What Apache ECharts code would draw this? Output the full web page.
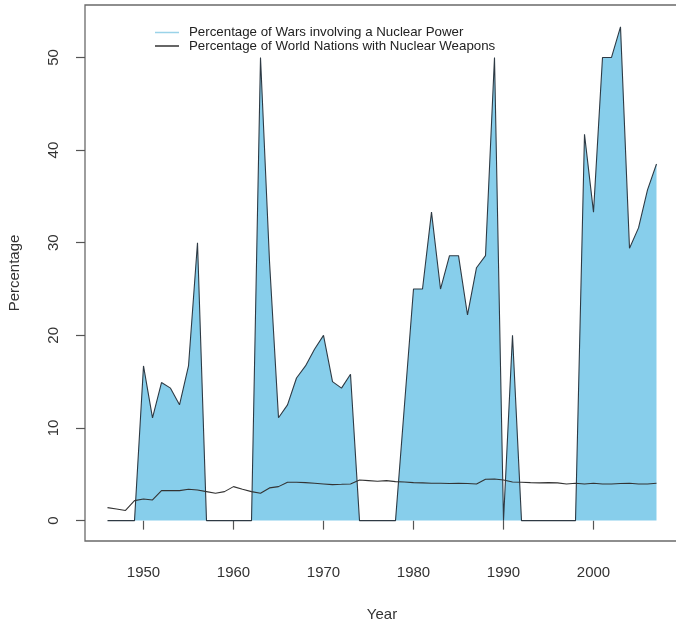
<!DOCTYPE html>
<html>
<head>
<meta charset="utf-8">
<script src="https://cdn.jsdelivr.net/npm/echarts@6/dist/echarts.min.js"></script>
<style>
html,body{margin:0;padding:0;background:#fff;}
#chart{width:676px;height:625px;}
</style>
</head>
<body>
<div id="chart"></div>
<script>
const years = [1946,1947,1948,1949,1950,1951,1952,1953,1954,1955,1956,1957,1958,1959,1960,1961,1962,1963,1964,1965,1966,1967,1968,1969,1970,1971,1972,1973,1974,1975,1976,1977,1978,1979,1980,1981,1982,1983,1984,1985,1986,1987,1988,1989,1990,1991,1992,1993,1994,1995,1996,1997,1998,1999,2000,2001,2002,2003,2004,2005,2006,2007];
const warsPct = [0,0,0,0,16.7,11.1,14.9,14.3,12.5,16.7,30,0,0,0,0,0,0,50,28,11.1,12.5,15.4,16.7,18.5,20,15,14.3,15.8,0,0,0,0,0,12.5,25,25,33.3,25,28.6,28.6,22.2,27.3,28.6,50,0,20,0,0,0,0,0,0,0,41.7,33.3,50,50,53.3,29.4,31.6,35.7,38.5];
const nationsPct = [1.40,1.26,1.10,2.16,2.34,2.23,3.24,3.24,3.24,3.38,3.30,3.13,2.95,3.13,3.67,3.38,3.13,2.95,3.53,3.67,4.15,4.14,4.10,4.03,3.96,3.89,3.92,3.96,4.39,4.32,4.25,4.32,4.21,4.17,4.10,4.07,4.03,4.03,4.00,4.03,4.00,3.96,4.46,4.50,4.39,4.17,4.14,4.10,4.07,4.10,4.07,3.96,4.03,3.96,4.03,3.96,3.96,4.00,4.03,3.96,3.96,4.03];
const xTicks = [1950,1960,1970,1980,1990,2000];
const yTicks = [0,10,20,30,40,50];
const warsName = 'Percentage of Wars involving a Nuclear Power';
const nationsName = 'Percentage of World Nations with Nuclear Weapons';

const chart = echarts.init(document.getElementById('chart'), null, {renderer:'canvas'});
const font = 'Liberation Sans, Arial, sans-serif';
chart.setOption({
  animation: false,
  backgroundColor: '#fff',
  textStyle: {fontFamily: font},
  grid: {left: 85, top: 5, right: -3, bottom: 84, containLabel: false, outerBoundsMode: 'none', show: true, borderColor: '#6a6a6a', borderWidth: 1.3, backgroundColor: 'transparent'},
  legend: {
    orient: 'vertical', left: 150, top: 21, icon: 'rect', itemWidth: 24, itemHeight: 1.5, itemGap: 0.5,
    textStyle: {fontFamily: font, fontSize: 13.3, color: '#222', lineHeight: 12.5, padding: [0,0,0,5]},
    data: [
      {name: warsName, itemStyle: {color: '#9ad3e8'}},
      {name: nationsName, itemStyle: {color: '#333'}}
    ]
  },
  xAxis: {
    type: 'value', min: 1943.5, max: 2009.5,
    name: 'Year', nameLocation: 'middle', nameGap: 66,
    nameTextStyle: {fontFamily: font, fontSize: 15, color: '#333'},
    axisLine: {show: false},
    splitLine: {show: false},
    axisTick: {show: true, length: 9, customValues: xTicks, lineStyle: {color: '#555', width: 1.2}},
    axisLabel: {customValues: xTicks, formatter: v => String(v), margin: 24, fontSize: 15, color: '#333', fontFamily: font}
  },
  yAxis: {
    type: 'value', min: -2.2, max: 55.66,
    name: 'Percentage', nameLocation: 'middle', nameGap: 63,
    nameTextStyle: {fontFamily: font, fontSize: 15, color: '#333'},
    axisLine: {show: false},
    splitLine: {show: false},
    axisTick: {show: true, length: 9, customValues: yTicks, lineStyle: {color: '#555', width: 1.2}},
    axisLabel: {customValues: yTicks, formatter: v => String(v), rotate: 90, margin: 24, fontSize: 15, color: '#333', fontFamily: font}
  },
  series: [
    {
      name: warsName, type: 'line', symbol: 'none', showSymbol: false,
      data: years.map((y, i) => [y, warsPct[i]]),
      lineStyle: {color: '#2e3a44', width: 1.1},
      itemStyle: {color: '#87CEEB'},
      areaStyle: {color: '#87CEEB', opacity: 1},
      z: 2
    },
    {
      name: nationsName, type: 'line', symbol: 'none', showSymbol: false,
      data: years.map((y, i) => [y, nationsPct[i]]),
      lineStyle: {color: '#333', width: 1.1},
      itemStyle: {color: '#333'},
      z: 3
    }
  ]
});
</script>
</body>
</html>
